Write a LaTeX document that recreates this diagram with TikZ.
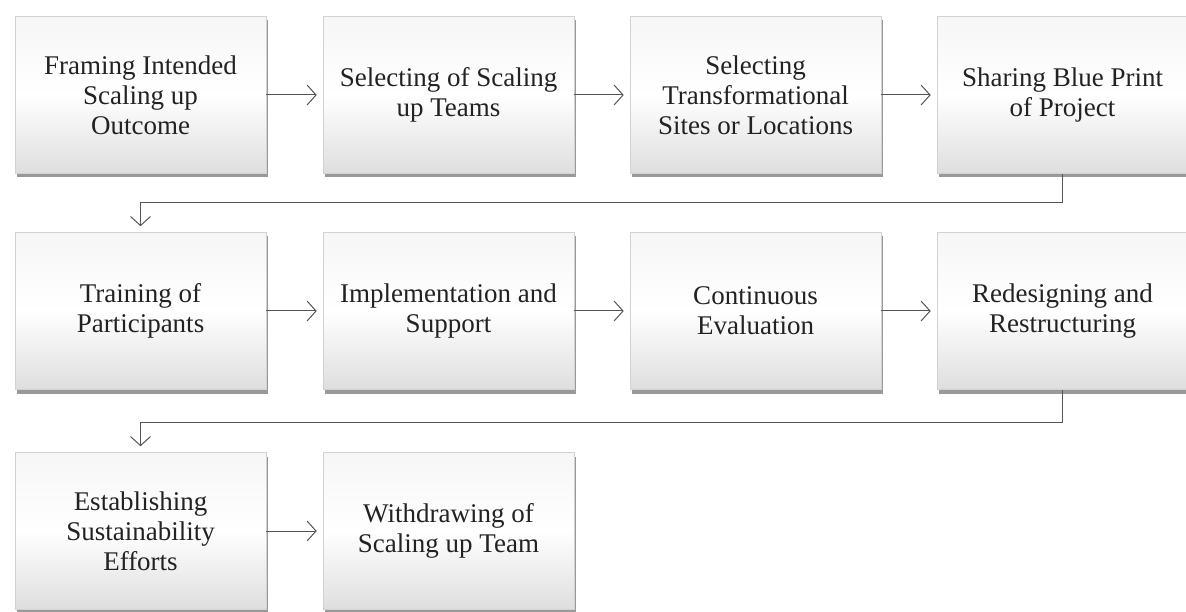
\documentclass[tikz,border=0pt]{standalone}
\usepackage{fontspec}
\setmainfont{Liberation Serif}
\usetikzlibrary{arrows.meta,shadows}
\definecolor{txt}{HTML}{222222}
\definecolor{ln}{HTML}{555555}
\tikzset{
  stepbox/.style={rectangle, minimum width=251pt, minimum height=157pt, inner sep=0pt,
    draw=gray!35, line width=0.6pt, top color=gray!7, bottom color=gray!26, middle color=white,
    drop shadow={shadow xshift=1.5pt, shadow yshift=-4pt, fill=black, opacity=0.4},
    align=center, text=txt, font=\fontsize{27}{30}\selectfont},
  flow/.style={draw=ln, line width=1pt, -{Straight Barb[length=9pt,width=20pt,line width=1pt]}, shorten >=6pt},
  link/.style={draw=ln, line width=1pt}
}
\begin{document}
\begin{tikzpicture}[x=1pt,y=-1pt]
\useasboundingbox[fill=white] (0,0) rectangle (1186,612);
% row 1
\node[stepbox] (b1) at (140.5,95) {Framing Intended\\Scaling up\\Outcome};
\node[stepbox] (b2) at (448.5,95) {Selecting of Scaling\\up Teams};
\node[stepbox] (b3) at (755.5,95) {Selecting\\Transformational\\Sites or Locations};
\node[stepbox] (b4) at (1062.5,95) {Sharing Blue Print\\of Project};
% row 2
\node[stepbox] (b5) at (140.5,311) {Training of\\Participants};
\node[stepbox] (b6) at (448.5,311) {Implementation and\\Support};
\node[stepbox] (b7) at (755.5,311) {Continuous\\Evaluation};
\node[stepbox] (b8) at (1062.5,311) {Redesigning and\\Restructuring};
% row 3
\node[stepbox] (b9) at (140.5,531) {Establishing\\Sustainability\\Efforts};
\node[stepbox] (b10) at (448.5,531) {Withdrawing of\\Scaling up Team};
% connectors
\draw[flow] (b1) -- (b2);
\draw[flow] (b2) -- (b3);
\draw[flow] (b3) -- (b4);
\draw[flow] (b5) -- (b6);
\draw[flow] (b6) -- (b7);
\draw[flow] (b7) -- (b8);
\draw[flow] (b9) -- (b10);
\coordinate (c1) at (1062.5,203);
\coordinate (c2) at (140.5,203);
\coordinate (c3) at (1062.5,422);
\coordinate (c4) at (140.5,422);
\draw[flow] (b4.south) -- (c1) -- (c2) -- (b5.north);
\draw[flow] (b8.south) -- (c3) -- (c4) -- (b9.north);
\end{tikzpicture}
\end{document}
